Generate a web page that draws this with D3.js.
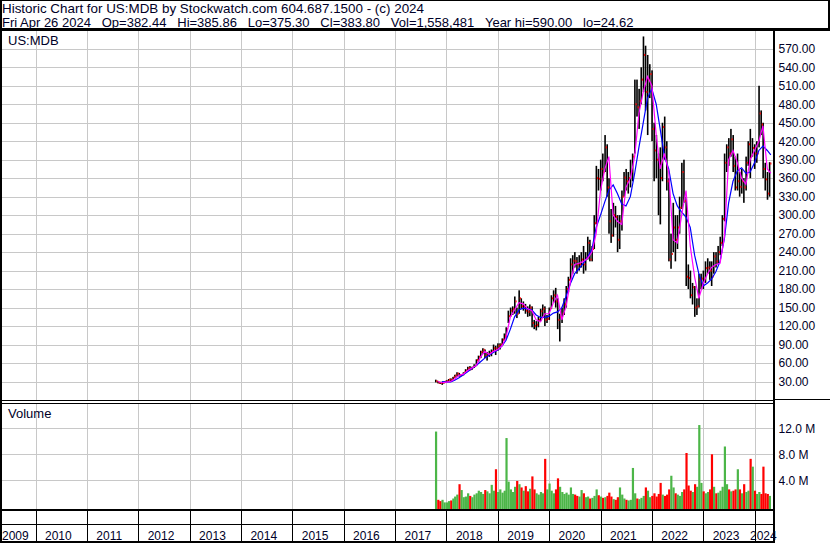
<!DOCTYPE html>
<html lang="en">
<head>
<meta charset="UTF-8">
<title>Historic Chart for US:MDB</title>
<script src="https://d3js.org/d3.v7.min.js"></script>
<style>
  body, html { margin: 0; padding: 0; overflow: hidden; background: #fff; }
  svg { display: block; }
  text { font-family: "Liberation Sans", Arial, sans-serif; fill: #000028; white-space: pre; }
</style>
</head>
<body>
<script>
// header texts
const headerLine1 = "Historic Chart for US:MDB by Stockwatch.com 604.687.1500 - (c) 2024";
const headerLine2 = "Fri Apr 26 2024   Op=382.44   Hi=385.86   Lo=375.30   Cl=383.80   Vol=1,558,481   Year hi=590.00   lo=24.62";
const symbol = "US:MDB";

// axis ticks
const priceTicks = [30, 60, 90, 120, 150, 180, 210, 240, 270, 300, 330, 360, 390, 420, 450, 480, 510, 540, 570];
const volumeTicks = [4, 8, 12];
const years = [2009, 2010, 2011, 2012, 2013, 2014, 2015, 2016, 2017, 2018, 2019, 2020, 2021, 2022, 2023, 2024];

// half-month bars, first one on 2017-10-16, then the 1st and 16th of every month
const firstBar = new Date(2017, 9, 16);
const hi = [
  33, 31, 29.5, 30, 30.5,
  32, 34, 35, 37.5, 41, 45, 44, 42, 45, 50, 54, 55, 54, 58, 66, 72, 80, 84, 82, 78, 80, 82, 90, 88,
  92, 92, 100, 108, 118, 145, 150, 152, 168, 150, 178, 165, 160, 156, 152, 155, 152, 130, 128, 135, 148, 155, 152, 138,
  150, 170, 178, 182, 165, 140, 150, 165, 185, 200, 230, 235, 240, 232, 235, 240, 250, 240, 265, 260, 250, 300, 380, 375,
  390, 400, 430, 415, 360, 310, 320, 315, 300, 300, 340, 370, 375, 370, 390, 400, 520, 520, 505, 540, 590, 575, 560, 545,
  535, 450, 430, 400, 410, 450, 460, 420, 360, 270, 320, 300, 300, 330, 385, 390, 330, 220, 210, 190, 185, 165, 205, 205,
  210, 225, 230, 225, 225, 240, 240, 250, 265, 300, 400, 415, 425, 440, 430, 395, 400, 370, 375, 360, 395, 420, 440, 425,
  415, 420, 510, 470, 450, 385, 370, 386
];
const lo = [
  28.5, 27, 26, 24.6, 27,
  29, 30.5, 30.5, 33, 36, 38, 38, 38.5, 40, 44, 47, 48, 49, 52, 55, 62, 68, 75, 68, 64, 70, 71, 78, 73,
  80, 82, 88, 96, 100, 125, 135, 138, 140, 133, 140, 148, 145, 140, 135, 136, 118, 115, 113, 118, 128, 135, 120, 125,
  130, 148, 158, 150, 115, 95, 125, 138, 150, 175, 195, 205, 215, 205, 210, 215, 205, 210, 228, 225, 225, 245, 285, 340,
  340, 355, 370, 330, 270, 255, 265, 280, 240, 245, 275, 330, 340, 335, 345, 355, 400, 460, 440, 480, 500, 470, 430, 490,
  420, 355, 360, 300, 285, 355, 390, 340, 225, 213, 240, 225, 245, 270, 310, 320, 185, 180, 165, 155, 135, 138, 150, 180,
  180, 190, 205, 195, 185, 205, 215, 220, 235, 250, 290, 370, 380, 395, 370, 340, 340, 330, 335, 320, 340, 380, 360, 395,
  375, 385, 410, 430, 360, 340, 325, 330
];
const cl = [
  30.5, 28, 27.5, 28, 29.6,
  31, 33.5, 33, 37, 40, 43, 40, 41, 44.5, 48, 52, 50, 53, 55, 65, 70, 78, 81.5, 72, 73, 76, 79, 84, 83.7,
  88, 90, 98, 104, 115, 136, 145, 148, 160, 140, 165, 152, 152, 145, 143, 150, 125, 120, 122, 130, 144, 148, 130, 131.6,
  148, 165, 170, 160, 130, 135, 140, 155, 180, 195, 220, 226, 225, 220, 220, 228, 220, 231, 255, 228, 245, 287, 360, 359,
  375, 370, 410, 345, 290, 267, 300, 297, 260, 290, 330, 361, 355, 360, 370, 395, 480, 475, 485, 520, 560, 500, 520, 529,
  440, 405, 390, 385, 360, 443, 410, 355, 228, 237, 280, 260, 280, 312, 370, 323, 200, 198, 170, 183, 150, 152, 195, 197,
  195, 214, 215, 210, 200, 233, 225, 240, 255, 294, 385, 410, 400, 423, 380, 345, 355, 346, 355, 345, 385, 415, 395, 409,
  400, 400, 465, 447, 375, 358, 335, 383.8
];
// volume in millions
const vol = [
  11.5, 1.0, 0.8, 1.0, 0.6,
  0.6, 0.8, 0.9, 1.2, 1.5, 1.8, 3.4, 2.5, 1.4, 1.5, 2.0, 1.6, 1.4, 1.8, 2.0, 2.4, 2.2, 1.9, 2.5, 2.3, 2.0, 3.3, 2.4, 5.7,
  2.2, 2.6, 2.1, 2.4, 10.5, 3.8, 2.6, 2.2, 3.0, 3.9, 3.4, 2.9, 2.4, 3.1, 2.3, 2.7, 4.6, 2.6, 2.0, 1.8, 2.2, 2.0, 7.3, 2.6,
  3.5, 2.4, 2.0, 2.6, 4.3, 3.0, 2.2, 1.9, 2.1, 1.8, 2.9, 1.9, 1.8, 1.6, 1.5, 2.5, 2.0, 1.4, 1.5, 1.2, 1.3, 1.6, 2.6, 1.7,
  1.5, 1.3, 1.4, 1.6, 2.1, 1.5, 1.1, 1.0, 1.4, 2.9, 1.8, 1.2, 1.0, 0.9, 1.0, 5.9, 2.0, 1.2, 1.1, 1.3, 1.6, 2.9, 2.4, 1.4,
  1.6, 2.0, 1.5, 1.9, 3.6, 1.8, 1.6, 1.8, 2.6, 4.7, 2.9, 2.0, 1.8, 1.6, 2.2, 2.6, 8.2, 3.2, 2.4, 2.2, 3.4, 3.0, 12.5, 3.6,
  2.3, 2.0, 2.2, 2.6, 8.0, 3.0, 2.0, 2.1, 2.4, 3.0, 9.2, 3.4, 2.6, 2.3, 2.4, 2.6, 5.7, 2.6, 2.0, 3.4, 2.2, 2.4, 7.3, 6.1,
  2.4, 1.9, 2.2, 1.9, 6.1, 2.0, 1.9, 1.6
];

// moving averages, read monthly (1st of month from Nov 2017) plus the last day
const maStart = new Date(2017, 10, 1);
const maEnd = new Date(2024, 3, 26);
const maShort = [
  30, 28,
  29, 30, 34, 40, 42, 48, 52, 56, 70, 79, 74, 79,
  82, 88, 102, 135, 146, 158, 156, 148, 145, 130, 127, 140,
  140, 158, 170, 130, 152, 192, 220, 222, 225, 230, 240, 270,
  340, 375, 395, 300, 290, 285, 345, 360, 395, 465, 500, 525,
  510, 430, 375, 400, 370, 260, 255, 300, 340, 250, 200, 165,
  189, 205, 215, 220, 222, 265, 390, 405, 385, 360, 350, 390,
  405, 420, 445, 375, 368
];
const maLong = [
  null, 30,
  29, 29.5, 32, 36, 41, 46, 51, 56, 62, 68, 73, 77,
  81, 88, 97, 115, 135, 146, 149, 148, 146, 138, 134, 134,
  136, 141, 143, 150, 168, 189, 205, 213, 222, 232, 245, 280,
  300, 322, 340, 349, 335, 318, 315, 330, 368, 410, 450, 490,
  505, 480, 440, 395, 375, 335, 315, 305, 297, 280, 235, 205,
  185, 190, 196, 208, 225, 262, 320, 355, 372, 377, 368, 370,
  385, 405, 412, 405, 398
];

const width = 830;
const height = 543;

const svg = d3.select("body").append("svg")
  .attr("width", width)
  .attr("height", height);

svg.append("rect").attr("width", width).attr("height", height).attr("fill", "#fff");

// panel edges
const plotLeft = 2, plotRight = 773;
const priceTop = 31, priceBottom = 400;
const volTop = 404, volBottom = 509;

const x = d3.scaleTime()
  .domain([new Date(2010, 0, 1), new Date(2024, 0, 1)])
  .range([35.5, 754.5]);
const yPrice = d3.scaleLinear().domain([0, 600]).range([400, 30.3]);
const yVol = d3.scaleLinear().domain([0, 12]).range([506.3, 428.3]);

const barDates = cl.map((d, k) => {
  const m = d3.timeMonth.offset(new Date(2017, 9, 1), Math.floor((k + 1) / 2));
  return k === 0 ? firstBar : new Date(m.getFullYear(), m.getMonth(), k % 2 === 0 ? 16 : 1);
});
const maDates = maShort.map((d, k) => k === maShort.length - 1 ? maEnd : d3.timeMonth.offset(maStart, k));

const px = v => Math.round(v) + 0.5;

// grid
const grid = svg.append("g")
  .attr("stroke", "#c8c8c8")
  .attr("stroke-width", 1)
  .attr("shape-rendering", "crispEdges");

const yearLines = years.slice(1).map(y => x(new Date(y, 0, 1)));

grid.selectAll(".vp").data(yearLines).join("line")
  .attr("x1", d => px(d)).attr("x2", d => px(d))
  .attr("y1", priceTop).attr("y2", priceBottom);
grid.selectAll(".vv").data(yearLines).join("line")
  .attr("class", "vv")
  .attr("x1", d => px(d)).attr("x2", d => px(d))
  .attr("y1", volTop).attr("y2", volBottom);
grid.selectAll(".hp").data(priceTicks).join("line")
  .attr("class", "hp")
  .attr("x1", plotLeft).attr("x2", plotRight)
  .attr("y1", d => px(yPrice(d))).attr("y2", d => px(yPrice(d)));
grid.selectAll(".hv").data(volumeTicks).join("line")
  .attr("class", "hv")
  .attr("x1", plotLeft).attr("x2", plotRight)
  .attr("y1", d => px(yVol(d))).attr("y2", d => px(yVol(d)));

// price bars
svg.append("clipPath").attr("id", "clipPrice")
  .append("rect").attr("x", plotLeft).attr("y", priceTop).attr("width", plotRight - plotLeft).attr("height", priceBottom - priceTop);

const price = svg.append("g").attr("clip-path", "url(#clipPrice)");

price.selectAll(".bar").data(cl).join("rect")
  .attr("class", "bar")
  .attr("x", (d, i) => x(barDates[i]) - 0.6)
  .attr("width", 1.6)
  .attr("y", (d, i) => yPrice(hi[i]))
  .attr("height", (d, i) => Math.max(1, yPrice(lo[i]) - yPrice(hi[i])))
  .attr("fill", "#000");

price.selectAll(".cls").data(cl).join("rect")
  .attr("class", "cls")
  .attr("x", (d, i) => x(barDates[i]) + 0.8)
  .attr("width", 1.2)
  .attr("y", d => yPrice(d) - 1)
  .attr("height", 2)
  .attr("fill", "#ff0000");

const maLine = d3.line()
  .defined(d => d[1] != null)
  .x(d => x(d[0]))
  .y(d => yPrice(d[1]));

price.append("path")
  .attr("d", maLine(maDates.map((d, i) => [d, maLong[i]])))
  .attr("fill", "none")
  .attr("stroke", "#0000ff")
  .attr("stroke-width", 1.2);

price.append("path")
  .attr("d", maLine(maDates.map((d, i) => [d, maShort[i]])))
  .attr("fill", "none")
  .attr("stroke", "#ff00ff")
  .attr("stroke-width", 1.2);

// volume bars
svg.append("g").selectAll("rect").data(vol).join("rect")
  .attr("x", (d, i) => x(barDates[i]) - 0.6)
  .attr("width", 2.2)
  .attr("y", d => yVol(d))
  .attr("height", d => volBottom - yVol(d))
  .attr("fill", (d, i) => (i === 0 || cl[i] >= cl[i - 1]) ? "#4cb648" : "#ff0000");

// frame
const frame = svg.append("g").attr("fill", "#000").attr("shape-rendering", "crispEdges");
const box = (x0, y0, w, h) => frame.append("rect").attr("x", x0).attr("y", y0).attr("width", w).attr("height", h);
box(0, 0, 2, height);
box(0, 0, width, 1);
box(828, 0, 2, 30);
box(0, 28, width, 3);
box(773, 28, 2, height - 28);
box(775, 399, 55, 1);
box(0, 400, 775, 1);
box(0, 403, 775, 1);
box(0, 509, 775, 2);
box(0, 524, 775, 1);
box(0, 541, 775, 2);

frame.selectAll(".sep").data(yearLines).join("rect")
  .attr("class", "sep")
  .attr("x", d => Math.round(d))
  .attr("y", 511)
  .attr("width", 1)
  .attr("height", 30);

// texts
svg.append("text").attr("x", 2).attr("y", 12.7).attr("font-size", "13.4px").text(headerLine1);
svg.append("text").attr("x", 2).attr("y", 26.8).attr("font-size", "13px").text(headerLine2);
svg.append("text").attr("x", 8).attr("y", 45).attr("font-size", "13px").text(symbol);
svg.append("text").attr("x", 8).attr("y", 418).attr("font-size", "13px").text("Volume");

svg.append("g").selectAll("text").data(priceTicks).join("text")
  .attr("x", 778.5)
  .attr("y", d => yPrice(d) + 4.3)
  .attr("font-size", "12px")
  .text(d => d.toFixed(2));

svg.append("g").selectAll("text").data(volumeTicks).join("text")
  .attr("x", 778.5)
  .attr("y", d => yVol(d) + 4.3)
  .attr("font-size", "12px")
  .text(d => d.toFixed(1) + " M");

svg.append("g").selectAll("text").data(years).join("text")
  .attr("x", d => Math.min(750, Math.max(2, x(new Date(d, 0, 1)) + 9.5)))
  .attr("y", 539.5)
  .attr("font-size", "12px")
  .text(d => d);
</script>
</body>
</html>
